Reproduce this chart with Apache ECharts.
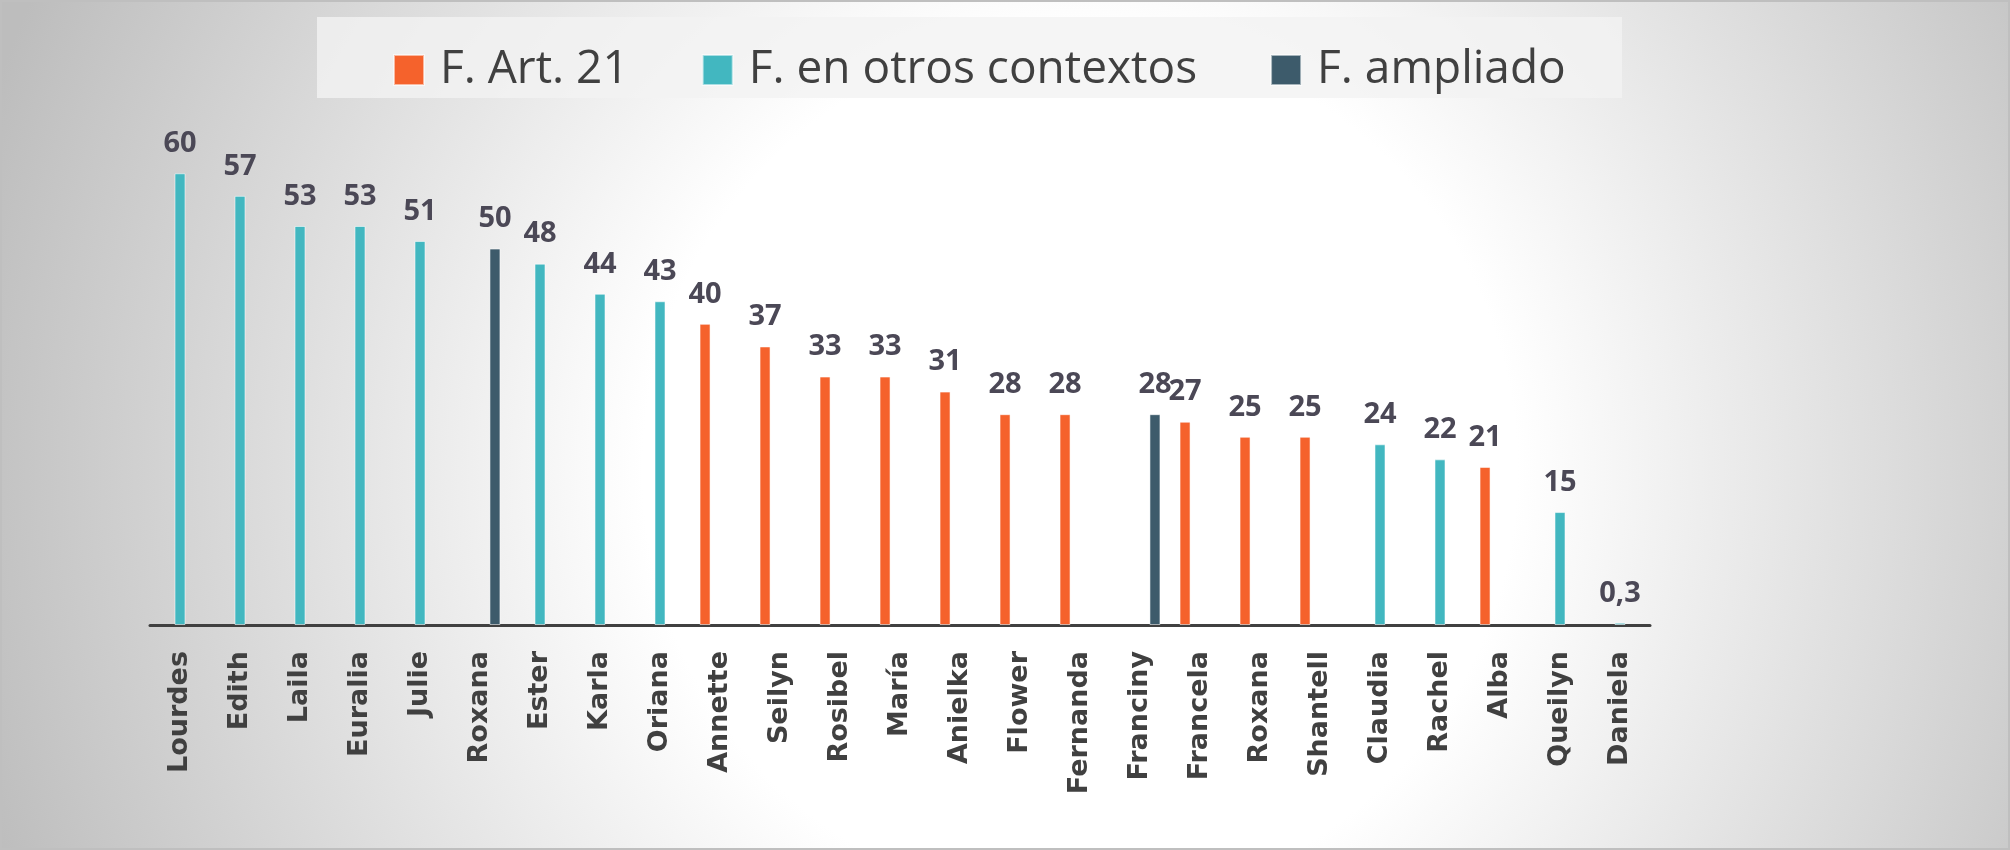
<!DOCTYPE html>
<html>
<head>
<meta charset="utf-8">
<script src="https://cdn.jsdelivr.net/npm/echarts@6/dist/echarts.min.js"></script>
<style>
  html, body { margin: 0; padding: 0; }
  #chart { width: 2010px; height: 850px; }
</style>
</head>
<body>
<div id="chart"></div>
<script>
// categorías (nombres en el eje X)
const names = ['Lourdes', 'Edith', 'Laila', 'Euralia', 'Julie', 'Roxana', 'Ester', 'Karla', 'Oriana',
  'Annette', 'Seilyn', 'Rosibel', 'María', 'Anielka', 'Flower', 'Fernanda', 'Franciny', 'Francela',
  'Roxana', 'Shantell', 'Claudia', 'Rachel', 'Alba', 'Queilyn', 'Daniela'];

// F. Art. 21
const art21 = [null, null, null, null, null, null, null, null, null,
  40, 37, 33, 33, 31, 28, 28, null, 27, 25, 25, null, null, 21, null, null];

// F. en otros contextos
const otros = [60, 57, 53, 53, 51, null, 48, 44, 43,
  null, null, null, null, null, null, null, null, null, null, null, 24, 22, null, 15, 0.3];

// F. ampliado
const ampliado = [null, null, null, null, null, 50, null, null, null,
  null, null, null, null, null, null, null, 28, null, null, null, null, null, null, null, null];

const seriesNames = ['F. Art. 21', 'F. en otros contextos', 'F. ampliado'];
const colors = ['#f5622c', '#42b7c0', '#3d5b6b'];

const chart = echarts.init(document.getElementById('chart'));

function makeSeries(name, data, color) {
  return {
    name: name,
    type: 'bar',
    data: data,
    barWidth: 11,
    barGap: '36%',
    itemStyle: { color: color, borderColor: 'rgba(255,255,255,0.55)', borderWidth: 1 },
    label: {
      show: true,
      position: 'top',
      distance: 15,
      fontFamily: 'Open Sans',
      fontWeight: 'bold',
      fontSize: 29,
      color: '#4b4856',
      formatter: p => String(p.value).replace('.', ',')
    }
  };
}

const option = {
  animation: false,
  backgroundColor: {
    type: 'radial', x: 1080, y: 470, r: 1150, global: true,
    colorStops: [
      { offset: 0, color: '#ffffff' },
      { offset: 0.38, color: '#ffffff' },
      { offset: 1, color: '#bdbdbd' }
    ]
  },
  graphic: [
    { type: 'rect', shape: { x: 317, y: 17, width: 1305, height: 81 }, style: { fill: 'rgba(242,242,242,0.8)' }, z: 0 },
    { type: 'rect', shape: { x: 1, y: 1, width: 2008, height: 848 }, style: { fill: 'none', stroke: '#bfbfbf', lineWidth: 2 }, z: 0 }
  ],
  legend: {
    data: seriesNames,
    left: 388,
    top: 42,
    icon: 'rect',
    itemWidth: 30,
    itemHeight: 30,
    itemGap: 73,
    textStyle: {
      fontFamily: 'Open Sans',
      fontSize: 46,
      lineHeight: 30,
      color: '#404040',
      padding: [0, 0, 0, 11]
    }
  },
  grid: { left: 150, right: 360, top: 98, bottom: 225 },
  xAxis: {
    type: 'category',
    data: names,
    axisLine: { lineStyle: { color: '#404040', width: 3 } },
    axisTick: { show: false },
    axisLabel: {
      interval: 0,
      rotate: 90,
      margin: 26,
      fontFamily: 'DejaVu Sans',
      fontWeight: 'bold',
      fontSize: 27,
      color: '#404040'
    }
  },
  yAxis: {
    type: 'value',
    min: 0,
    max: 70,
    show: false,
    splitLine: { show: false }
  },
  series: [
    makeSeries(seriesNames[0], art21, colors[0]),
    makeSeries(seriesNames[1], otros, colors[1]),
    makeSeries(seriesNames[2], ampliado, colors[2])
  ]
};

chart.setOption(option);
</script>
</body>
</html>
